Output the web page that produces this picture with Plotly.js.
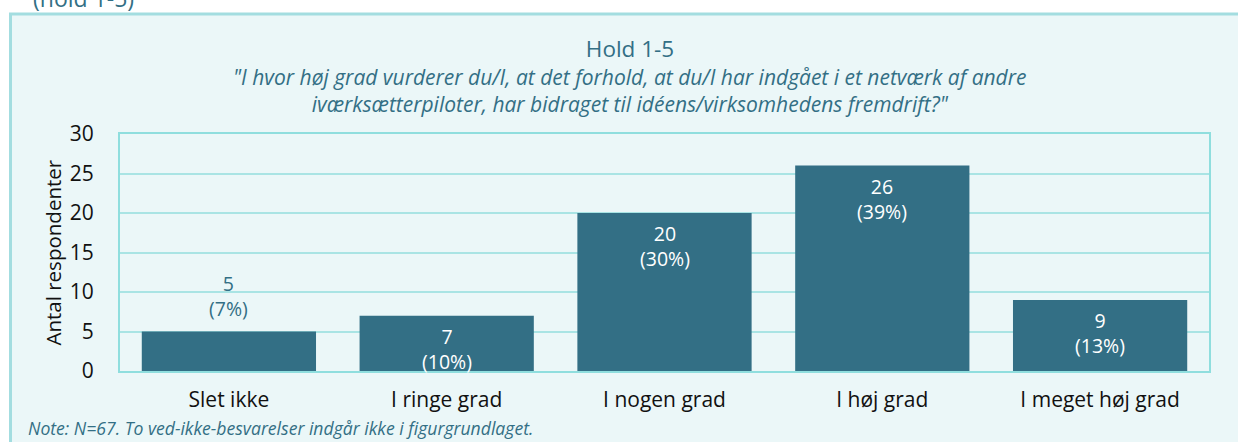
<!DOCTYPE html>
<html>
<head>
<meta charset="utf-8">
<script src="https://cdn.plot.ly/plotly-3.0.1.min.js"></script>
<style>
  html, body { margin: 0; padding: 0; background: #ffffff; }
  #chart { width: 1238px; height: 442px; }
</style>
</head>
<body>
<div id="chart"></div>
<script>
// ---- Data ----
const categories = ["Slet ikke", "I ringe grad", "I nogen grad", "I høj grad", "I meget høj grad"];
const counts = [5, 7, 20, 26, 9];
const percents = [7, 10, 30, 39, 13];
const yTickVals = [0, 5, 10, 15, 20, 25, 30];

const pageLabel = "(hold 1-5)";
const chartTitle = "Hold 1-5";
const subtitleLines = [
  "\"I hvor høj grad vurderer du/I, at det forhold, at du/I har indgået i et netværk af andre",
  "iværksætterpiloter, har bidraget til idéens/virksomhedens fremdrift?\""
];
const yTitle = "Antal respondenter";
const noteText = "Note: N=67. To ved-ikke-besvarelser indgår ikke i figurgrundlaget.";

// ---- Layout geometry ----
const W = 1238, H = 442;
const M = { l: 120, r: 29, t: 134, b: 71 };
const PW = W - M.l - M.r, PH = H - M.t - M.b;
const px = x => (x - M.l) / PW;
const py = y => (H - M.b - y) / PH;

const FONT = "Open Sans, Noto Sans, sans-serif";
const TEAL = "#336f85";
const insideMin = 7;

const annotations = [];
// bar labels
categories.forEach((c, i) => {
  const inside = counts[i] >= insideMin;
  annotations.push({
    x: c, y: counts[i], xref: "x", yref: "y",
    text: counts[i] + "<br>(" + percents[i] + "%)",
    showarrow: false,
    yanchor: inside ? "top" : "bottom",
    yshift: inside ? -5 : 8,
    font: { family: FONT, size: 19.5, color: inside ? "#ffffff" : TEAL }
  });
});
// subtitle (two lines)
annotations.push({
  x: px(630), y: py(90.5), xref: "paper", yref: "paper",
  xanchor: "center", yanchor: "middle", showarrow: false,
  text: subtitleLines.map(t => "<i>" + t + "</i>").join("<br>"),
  font: { family: FONT, size: 21, color: TEAL }
});
// y title
annotations.push({
  x: px(52), y: 0.5, xref: "paper", yref: "paper",
  xanchor: "center", yanchor: "middle", textangle: -90, showarrow: false,
  text: yTitle, font: { family: FONT, size: 20.5, color: "#111111" }
});
// note
annotations.push({
  x: px(26), y: py(428), xref: "paper", yref: "paper",
  xanchor: "left", yanchor: "middle", showarrow: false,
  text: "<i>" + noteText + "</i>", font: { family: FONT, size: 17.6, color: TEAL }
});
// page label above box (cut off like the reference)
annotations.push({
  x: px(31), y: py(-2), xref: "paper", yref: "paper",
  xanchor: "left", yanchor: "middle", showarrow: false,
  text: pageLabel, font: { family: FONT, size: 23, color: TEAL }
});

const trace = {
  type: "bar",
  x: categories,
  y: counts,
  marker: { color: TEAL, line: { width: 0 } },
  hoverinfo: "x+y"
};

const layout = {
  width: W, height: H,
  margin: M,
  paper_bgcolor: "#ffffff",
  plot_bgcolor: "rgba(0,0,0,0)",
  bargap: 0.2,
  showlegend: false,
  title: {
    text: chartTitle, xref: "container", x: 630 / W, xanchor: "center",
    yref: "container", y: 1 - 49 / H, yanchor: "middle",
    font: { family: FONT, size: 22.5, color: TEAL }
  },
  font: { family: FONT, color: "#111111" },
  xaxis: {
    type: "category",
    showline: true, mirror: true, linecolor: "#8fdede", linewidth: 2,
    showgrid: false, ticks: "", ticklabelstandoff: 9,
    tickfont: { family: FONT, size: 21, color: "#111111" }
  },
  yaxis: {
    range: [0, 30], tickvals: yTickVals,
    showline: true, mirror: true, linecolor: "#8fdede", linewidth: 2,
    showgrid: true, gridcolor: "#a9e4e4", gridwidth: 2,
    zeroline: false, ticks: "", ticklabelstandoff: 20,
    tickfont: { family: FONT, size: 21, color: "#111111" }
  },
  shapes: [{
    type: "rect", xref: "paper", yref: "paper", layer: "below",
    x0: px(10.5), x1: px(1250), y0: py(14), y1: py(460),
    line: { color: "#a3dde0", width: 3 }, fillcolor: "#ebf7f8"
  }],
  annotations: annotations
};

Plotly.newPlot("chart", [trace], layout, { displayModeBar: false, staticPlot: true });
</script>
</body>
</html>
